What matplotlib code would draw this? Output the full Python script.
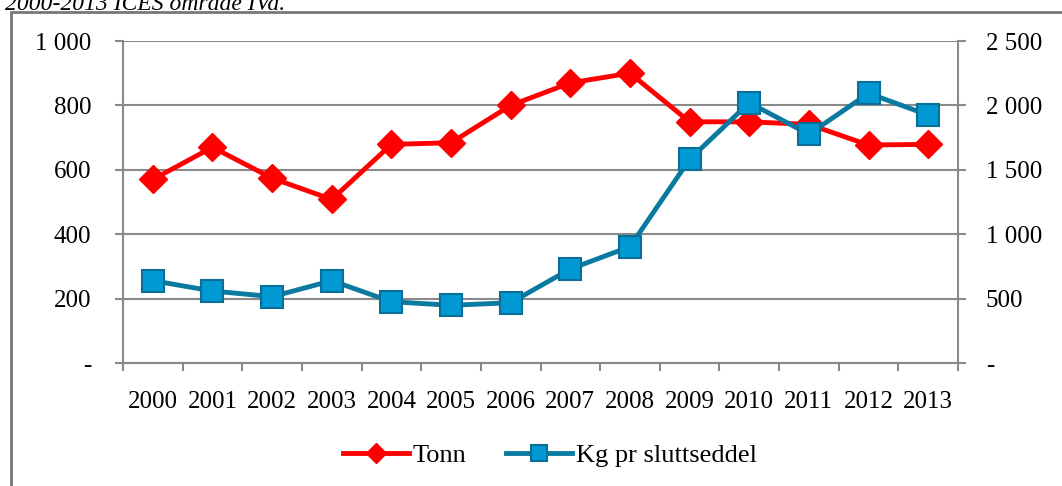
import matplotlib
matplotlib.use("Agg")
import matplotlib.pyplot as plt
from matplotlib.patches import Rectangle

years = [str(y) for y in range(2000, 2014)]
tonn = [570, 670, 574, 508, 679, 684, 800, 870, 900, 749, 749, 741, 677, 679]
kg_pr_sluttseddel = [639, 559, 515, 639, 476, 448, 468, 730, 903, 1581, 2021, 1776, 2094, 1925]

left_ticks = [0, 200, 400, 600, 800, 1000]
left_labels = ["-", "200", "400", "600", "800", "1 000"]
right_ticks = [0, 500, 1000, 1500, 2000, 2500]
right_labels = ["-", "500", "1 000", "1 500", "2 000", "2 500"]

plt.rcParams["font.family"] = ["Liberation Serif", "DejaVu Serif"]
grey = "#8a8a8a"

fig = plt.figure(figsize=(10.62, 4.86), dpi=100)
ax = fig.add_axes([123 / 1062, 1 - 363 / 486, (958 - 123) / 1062, (363 - 41) / 486])

x = list(range(len(years)))
ax.plot(x, tonn, color="#ff0000", lw=3.5, marker="D", ms=14,
        mec="#ff0000", mfc="#ff0000", label="Tonn", zorder=3)
ax.set_xlim(-0.5, len(years) - 0.5)
ax.set_ylim(0, 1000)
ax.set_yticks(left_ticks)
ax.set_yticklabels(left_labels)
ax.yaxis.grid(True, color=grey, lw=1.5)
ax.set_axisbelow(True)

ax.set_xticks(x)
ax.set_xticklabels(years)
ax.set_xticks([i - 0.5 for i in range(len(years) + 1)], minor=True)
ax.tick_params(axis="x", which="major", length=0, pad=20, labelsize=18)
ax.tick_params(axis="x", which="minor", length=6, color=grey, width=1.5)
ax.tick_params(axis="y", length=6, color=grey, width=1.5, pad=17, labelsize=18)

for s in ["top", "right"]:
    ax.spines[s].set_visible(False)
for s in ["left", "bottom"]:
    ax.spines[s].set_color(grey)
    ax.spines[s].set_linewidth(1.5)

ax2 = ax.twinx()
ax2.plot(x, kg_pr_sluttseddel, color="#0a7aa0", lw=3.5, marker="s", ms=16,
         mfc="#0099d4", mec="#0b6f95", mew=1.5, label="Kg pr sluttseddel", zorder=3)
ax2.set_ylim(0, 2500)
ax2.set_yticks(right_ticks)
ax2.set_yticklabels(right_labels)
ax2.tick_params(axis="y", length=6, color=grey, width=1.5, pad=14, labelsize=18)
for s in ["top", "left", "bottom"]:
    ax2.spines[s].set_visible(False)
ax2.spines["right"].set_color(grey)
ax2.spines["right"].set_linewidth(1.5)
for lab in ax2.get_yticklabels():
    lab.set_ha("left")

h1, l1 = ax.get_legend_handles_labels()
h2, l2 = ax2.get_legend_handles_labels()
fig.legend(h1 + h2, l1 + l2, loc="center", bbox_to_anchor=(0.518, 1 - 455 / 486),
           ncol=2, frameon=False, fontsize=19, handlelength=2.5, columnspacing=1.5,
           handletextpad=0.15, markerscale=0.75)

fig.patches.append(Rectangle((11 / 1062, -0.1), 1.2, 1.1 - 12 / 486,
                             transform=fig.transFigure, fill=False,
                             edgecolor="#777777", lw=2))
fig.text(0.005, 1 - 4 / 486, "2000-2013 ICES område IVa.", fontsize=17,
         style="italic", va="center", ha="left")

fig.savefig("out.png", dpi=100)
